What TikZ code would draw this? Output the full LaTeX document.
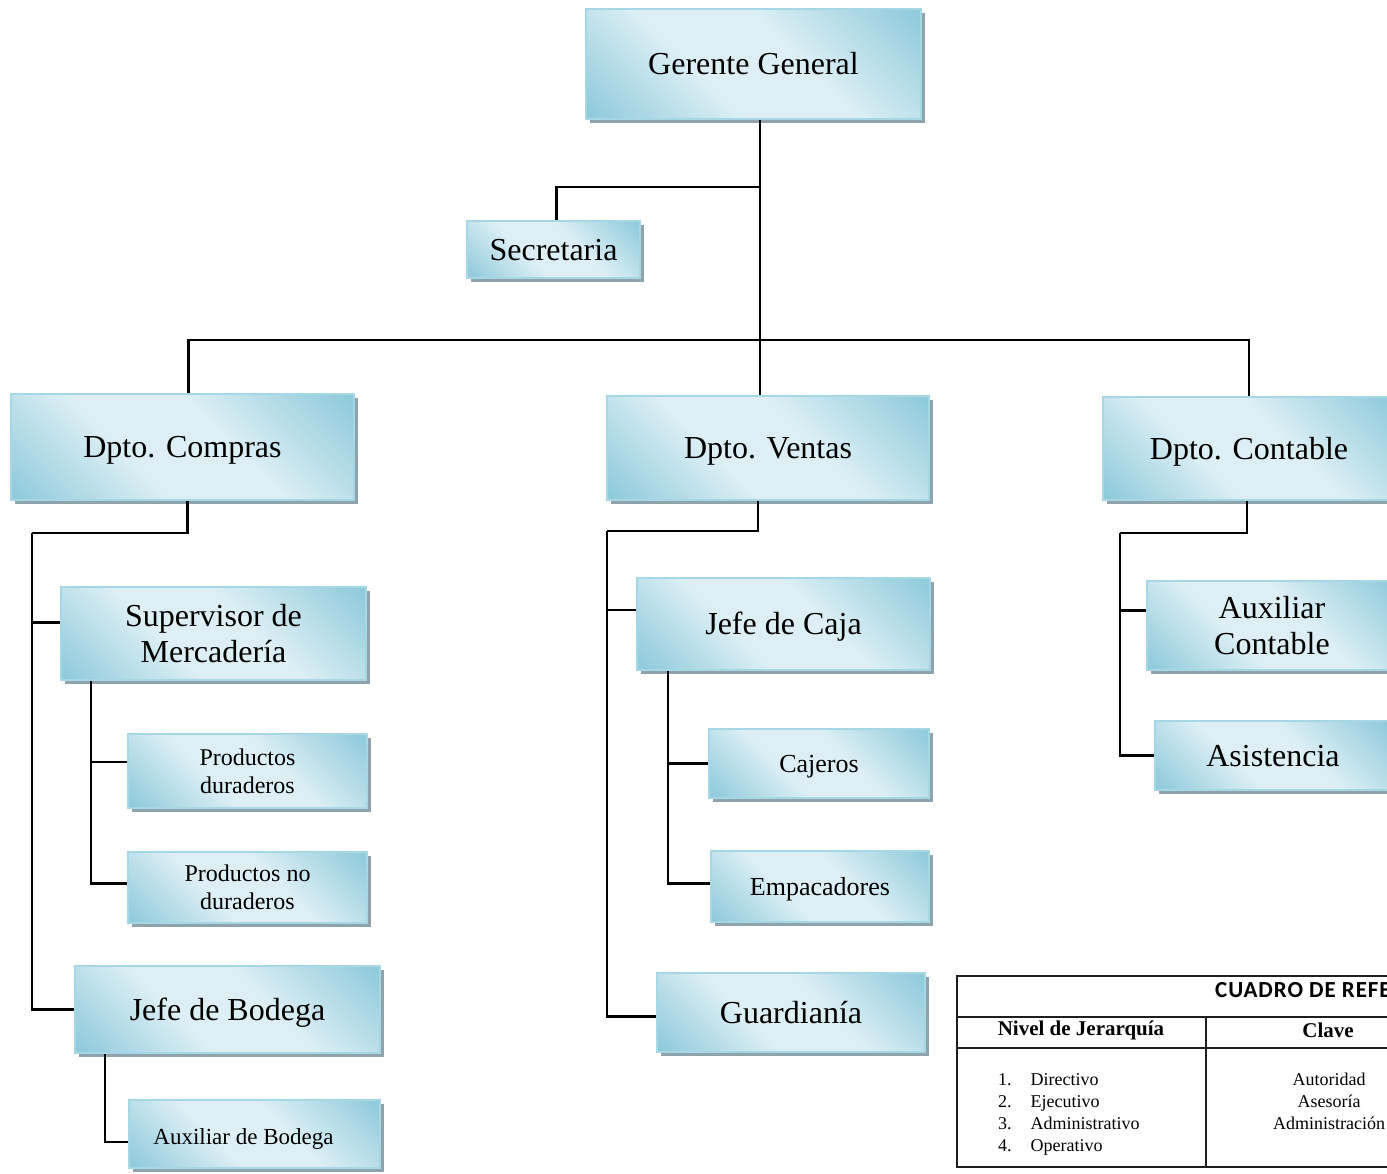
\documentclass[tikz,border=0pt]{standalone}
\usepackage{fontspec}
\setmainfont{Liberation Serif}
\newfontfamily\cuadroFont[LetterSpace=4]{Carlito}
\usetikzlibrary{shadows}

\definecolor{cajaClara}{HTML}{DDEFF5}
\definecolor{cajaOscura}{HTML}{90CBDC}
\definecolor{cajaBorde}{HTML}{A6D7E4}
\definecolor{cajaSombra}{HTML}{8EA3AC}
\definecolor{tablaLinea}{HTML}{1E1E1E}

\pgfdeclarehorizontalshading{cajaDegradado}{100bp}{color(0bp)=(cajaOscura); color(16bp)=(cajaOscura);
    color(40bp)=(cajaClara); color(58bp)=(cajaClara); color(84bp)=(cajaOscura); color(100bp)=(cajaOscura)}

\tikzset{
    caja/.style={draw=cajaBorde, line width=1.5pt, inner sep=0pt, align=center,
        shading=cajaDegradado, shading angle=45,
        drop shadow={shadow xshift=4pt, shadow yshift=-4pt, fill=cajaSombra, opacity=1},
        font=\fontsize{32}{36}\selectfont},
    unaLinea/.style={caja, text height=28.6pt, text depth=7pt},
    cajaChica/.style={caja, font=\fontsize{24}{28}\selectfont},
    cajaMedia/.style={caja, font=\fontsize{26}{30}\selectfont, text height=23.2pt, text depth=5.6pt},
    linea/.style={line width=2.4pt, black},
    tabla/.style={line width=1.4pt, tablaLinea}
}

\begin{document}
\begin{tikzpicture}[x=1pt, y=-1pt]

    \useasboundingbox (0,0) rectangle (1387,1174);
    \clip (0,0) rectangle (1387,1174);

    %draws top levels
    \node[unaLinea, minimum width=335, minimum height=110] (gg) at (753.5,64) {Gerente General};
    \node[unaLinea, minimum width=173, minimum height=57] (sec) at (553.5,249.5) {Secretaria};

    \node[unaLinea, minimum width=343, minimum height=106] (cmp) at (182.5,447) {Dpto. Compras};
    \node[unaLinea, minimum width=322, minimum height=104] (ven) at (768,448) {Dpto. Ventas};
    \node[unaLinea, minimum width=292, minimum height=103] (con) at (1249,448.5) {Dpto. Contable};

    %draws compras branch
    \node[caja, minimum width=305, minimum height=93] (sup) at (213.5,633.5) {Supervisor de\\Mercadería};
    \node[cajaChica, minimum width=239, minimum height=74] (pd) at (247.5,771) {Productos\\duraderos};
    \node[cajaChica, minimum width=239, minimum height=71] (pnd) at (247.5,887.5) {Productos no\\duraderos};
    \node[unaLinea, minimum width=305, minimum height=87] (jb) at (227.5,1009.5) {Jefe de Bodega};
    \node[caja, minimum width=251, minimum height=68, font=\fontsize{23}{27}\selectfont,
        text height=23pt, text depth=3pt]
        (ab) at (254.5,1134) {\hspace*{-22pt}Auxiliar de Bodega};

    %draws ventas branch
    \node[unaLinea, minimum width=293, minimum height=92] (jc) at (783.5,624) {Jefe de Caja};
    \node[cajaMedia, minimum width=220, minimum height=69] (caj) at (819,763.5) {Cajeros};
    \node[cajaMedia, minimum width=218, minimum height=71] (emp) at (820,886.5) {Empacadores};
    \node[unaLinea, minimum width=268, minimum height=79] (gua) at (791,1012.5) {Guardianía};

    %draws contable branch
    \node[caja, minimum width=250, minimum height=89] (auxc) at (1272,625.5) {Auxiliar\\Contable};
    \node[unaLinea, minimum width=236, minimum height=69] (asis) at (1273,755.5) {Asistencia};

    %draws connectors
    \coordinate (bus) at (760,340);
    \coordinate (secBus) at (760,187);
    \draw[linea] (bus |- gg.south) -- (bus |- ven.north);
    \draw[linea] (secBus) -| ([xshift=3pt]sec.north);
    \draw[linea] ([xshift=6pt]cmp.north) |- (bus) -| (con.north);

    \coordinate (cmpBus) at (32,533);
    \draw[linea] ([xshift=5pt]cmp.south) |- (cmpBus);
    \draw[linea] (cmpBus) |- ([yshift=11pt]sup.west);
    \draw[linea] (cmpBus) |- (jb.west);
    \coordinate (supBus) at ([xshift=31pt]sup.south west);
    \draw[linea] (supBus) |- ([yshift=9pt]pd.west);
    \draw[linea] (supBus) |- ([yshift=4pt]pnd.west);
    \coordinate (jbBus) at ([xshift=31pt]jb.south west);
    \draw[linea] (jbBus) |- ([yshift=-8pt]ab.west);

    \coordinate (venBus) at (607,531);
    \draw[linea] ([xshift=-10pt]ven.south) |- (venBus);
    \draw[linea] (venBus) |- ([yshift=14pt]jc.west);
    \draw[linea] (venBus) |- ([yshift=-4pt]gua.west);
    \coordinate (jcBus) at ([xshift=32pt]jc.south west);
    \draw[linea] (jcBus) |- (caj.west);
    \draw[linea] (jcBus) |- ([yshift=3pt]emp.west);

    \coordinate (conBus) at (1120,533);
    \draw[linea] ([xshift=-2pt]con.south) |- (conBus);
    \draw[linea] (conBus) |- ([yshift=15pt]auxc.west);
    \draw[linea] (conBus) |- (asis.west);

    %draws cuadro de referencia
    \draw[tabla] (957,976) rectangle (1480,1167);
    \draw[tabla, line width=2pt] (957,1017) -- (1480,1017);
    \draw[tabla] (957,1048) -- (1480,1048);
    \draw[tabla] (1206,1017) -- (1206,1167);

    \node[anchor=west, inner sep=0pt, font=\cuadroFont\bfseries\fontsize{23}{27}\selectfont]
        (titulo) at (1215,990.5) {CUADRO DE REFERENCIA};
    \node[inner sep=0pt, font=\bfseries\fontsize{21}{25}\selectfont] (nivel) at (1081,1030) {Nivel de Jerarquía};
    \node[inner sep=0pt, font=\bfseries\fontsize{21}{25}\selectfont] (clave) at (1328,1030) {Clave};
    \node[anchor=north west, inner sep=0pt, font=\fontsize{18}{22}\selectfont] (niveles) at (998,1070)
        {\begin{tabular}{@{}l@{\hspace{19pt}}l@{}}
            1. & Directivo\\
            2. & Ejecutivo\\
            3. & Administrativo\\
            4. & Operativo
        \end{tabular}};
    \node[anchor=north, inner sep=0pt, align=center, font=\fontsize{18}{22}\selectfont] (claves) at (1329,1073)
        {Autoridad\\Asesoría\\Administración};

\end{tikzpicture}
\end{document}
